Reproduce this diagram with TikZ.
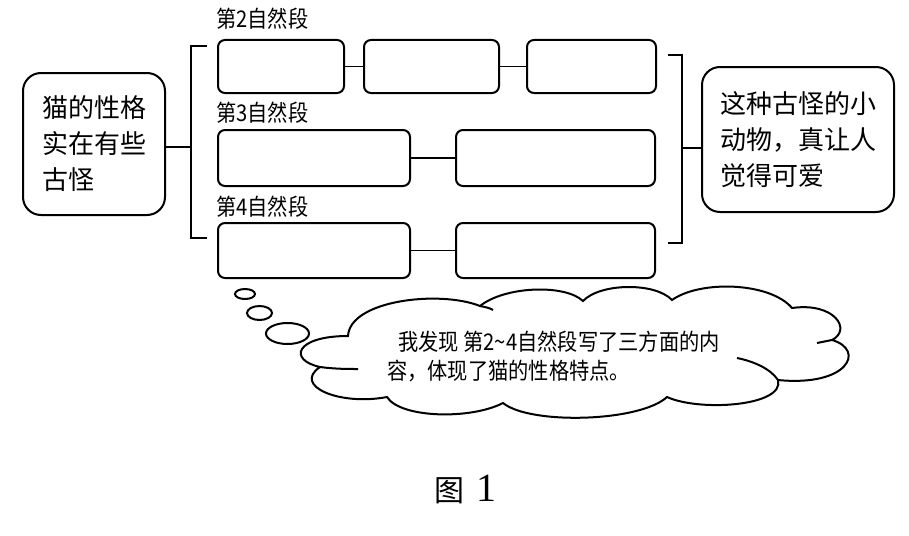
\documentclass[tikz,border=0pt]{standalone}
\usepackage{fontspec}
\newfontfamily\cjk{Noto Sans CJK SC}
\newfontfamily\cjkn[FakeStretch=0.88]{Noto Sans CJK SC}
\newfontfamily\capserif{Liberation Serif}
\begin{document}
\begin{tikzpicture}[x=1pt,y=-1pt,
  cell/.style={draw, line width=2pt, rounded corners=7pt, inner sep=0pt, minimum height=54pt},
  bigbox/.style={draw, line width=2pt, rounded corners=18pt, inner sep=0pt, align=left,
    font=\cjk\fontsize{26}{36}\selectfont},
  link/.style={line width=1.5pt},
  brk/.style={line width=2pt},
  lab/.style={anchor=base west, inner sep=0pt, font=\cjkn\fontsize{23}{23}\selectfont},
  puff/.style={draw, line width=2pt}]
\fill[white] (0,0) rectangle (909,535);
\useasboundingbox (0,0) rectangle (909,535);

% left and right boxes
\node[bigbox, minimum width=142pt, minimum height=142pt] (lbox) at (94,144) {猫的性格\\实在有些\\古怪};
\node[bigbox, minimum width=192pt, minimum height=145pt] (rbox) at (798,139.5) {这种古怪的小\\动物，真让人\\觉得可爱};

% row labels
\node[lab] (l2) at (216,28) {第2自然段};
\node[lab] (l3) at (216,121) {第3自然段};
\node[lab] (l4) at (216,215) {第4自然段};

% row 1
\node[cell, minimum width=126pt, minimum height=53pt] (a1) at (281,66.5) {};
\node[cell, minimum width=135pt, minimum height=53pt] (a2) at (431.5,66.5) {};
\node[cell, minimum width=129pt, minimum height=53pt] (a3) at (591.5,66.5) {};
\draw[link] (a1.east) -- (a2.west);
\draw[link] (a2.east) -- (a3.west);

% row 2
\node[cell, minimum width=192pt, minimum height=56pt] (b1) at (314,158) {};
\node[cell, minimum width=199pt, minimum height=56pt] (b2) at (555.5,158) {};
\draw[link] (b1.east) -- (b2.west);

% row 3
\node[cell, minimum width=192pt, minimum height=55pt] (c1) at (314,250.5) {};
\node[cell, minimum width=199pt, minimum height=55pt] (c2) at (555.5,250.5) {};
\draw[link] (c1.east) -- (c2.west);

% brackets
\coordinate (lt) at (207,46);
\coordinate (lbt) at (207,238);
\coordinate (lb) at (191,147);
\draw[brk] (lt) -- (191,46) -- (191,238) -- (lbt);
\draw[brk] (lbox.east |- lb) -- (lb);

\coordinate (rt) at (668,55);
\coordinate (rbt) at (668,243);
\coordinate (rb) at (682,148);
\draw[brk] (rt) -- (682,55) -- (682,243) -- (rbt);
\draw[brk] (rb) -- (rbox.west |- rb);

% thought bubbles
\draw[puff] (245,294) ellipse [x radius=10, y radius=5];
\draw[puff] (259.5,313) ellipse [x radius=12.5, y radius=7];
\draw[puff] (287.5,333.5) ellipse [x radius=21.5, y radius=10.5];

% cloud
\draw[puff, fill=white] (348,336)
  .. controls (350,300) and (440,290) .. (480,306)
  .. controls (505,286) and (565,284) .. (583,301)
  .. controls (600,283) and (655,282) .. (672,300)
  .. controls (700,280) and (770,282) .. (792,308)
  .. controls (835,302) and (852,330) .. (832,340)
  .. controls (866,350) and (848,387) .. (778,380)
  .. controls (785,406) and (700,412) .. (667,397)
  .. controls (640,422) and (530,425) .. (503,403)
  .. controls (470,420) and (400,418) .. (387,397)
  .. controls (340,406) and (292,386) .. (320,367)
  .. controls (288,360) and (295,336) .. (348,336) -- cycle;
\draw[puff] (480,306) .. controls (485,307) and (490,308) .. (493,310);
\draw[puff] (320,367) .. controls (335,369) and (348,369) .. (358,369);
\draw[puff] (778,380) .. controls (770,368) and (752,361) .. (737,358);
\draw[puff] (832,340) -- (817,343);

% cloud text
\node[lab] (t1) at (398,350) {我发现 第2\textasciitilde 4自然段写了三方面的内};
\node[lab] (t2) at (387,379) {容，体现了猫的性格特点。};

% caption
\node[anchor=base west, inner sep=0pt] (fig) at (434,501)
  {{\cjk\fontsize{30}{30}\selectfont 图}\hspace{12pt}{\capserif\fontsize{40}{40}\selectfont 1}};
\end{tikzpicture}
\end{document}
